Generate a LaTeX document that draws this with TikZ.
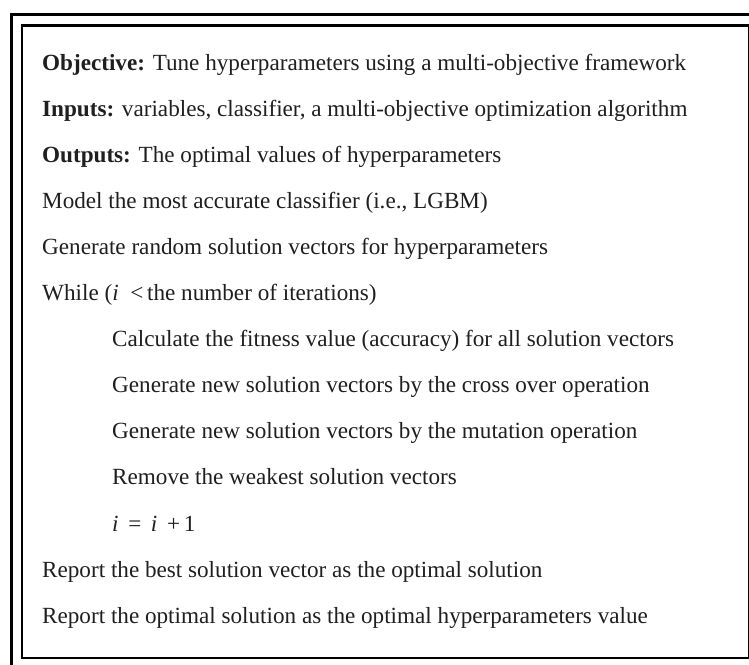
\documentclass[tikz,border=0pt]{standalone}
\usepackage{fontspec}
\setmainfont{Liberation Serif}
\begin{document}
\begin{tikzpicture}[x=1pt,y=-1pt,
  txt/.style={anchor=base west, inner sep=0pt, font=\fontsize{23.15}{27}\selectfont, text=black!88}]
\useasboundingbox (0,0) rectangle (749,664);
\clip (0,0) rectangle (749,664);
\fill[white] (0,0) rectangle (749,664);
\draw[line width=2.2pt] (760,14.5) -- (11.5,14.5) -- (11.5,680);
\draw[line width=2.6pt] (22,25.5) rectangle (749.5,658);
\node[txt] (l1) at (42,70) {\textbf{Objective:} Tune hyperparameters using a multi-objective framework};
\node[txt] (l2) at (42,116.1) {\textbf{Inputs:} variables, classifier, a multi-objective optimization algorithm};
\node[txt] (l3) at (42,162.2) {\textbf{Outputs:} The optimal values of hyperparameters};
\node[txt] (l4) at (42,208.3) {Model the most accurate classifier (i.e., LGBM)};
\node[txt] (l5) at (42,254.4) {Generate random solution vectors for hyperparameters};
\node[txt] (l6) at (42,300.5) {While (\textit{i}\ \ <\,the number of iterations)};
\node[txt] (l7) at (112,346.6) {Calculate the fitness value (accuracy) for all solution vectors};
\node[txt] (l8) at (112,392.7) {Generate new solution vectors by the cross over operation};
\node[txt] (l9) at (112,438.8) {Generate new solution vectors by the mutation operation};
\node[txt] (l10) at (112,484.9) {Remove the weakest solution vectors};
\node[txt] (l11) at (112,531) {\textit{i}\ \,=\ \,\textit{i}\ \,+\,1};
\node[txt] (l12) at (42,577.1) {Report the best solution vector as the optimal solution};
\node[txt] (l13) at (42,623.2) {Report the optimal solution as the optimal hyperparameters value};
\end{tikzpicture}
\end{document}
